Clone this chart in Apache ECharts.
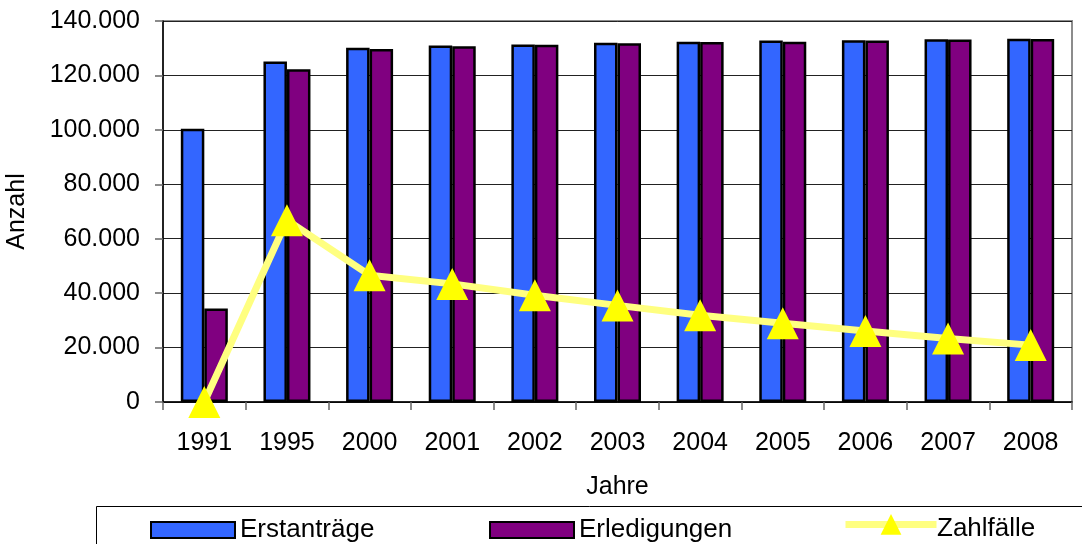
<!DOCTYPE html>
<html>
<head>
<meta charset="utf-8">
<script src="https://cdn.jsdelivr.net/npm/echarts@6/dist/echarts.min.js"></script>
<style>
html,body{margin:0;padding:0;background:#fff;}
#c{width:1082px;height:544px;}
</style>
</head>
<body>
<div id="c"></div>
<script>
const years = ['1991','1995','2000','2001','2002','2003','2004','2005','2006','2007','2008'];
const erstantraege = [100400, 125100, 130200, 131000, 131400, 132000, 132400, 132800, 132900, 133300, 133500];
const erledigungen = [34400, 122300, 129700, 130700, 131300, 131800, 132300, 132400, 132800, 133200, 133400];
const zahlfaelle = [0, 66800, 46600, 43400, 39200, 35500, 31900, 28900, 26100, 23300, 20900];
const yTicks = [0, 20000, 40000, 60000, 80000, 100000, 120000, 140000];

const FONT = 'Liberation Sans, Arial, sans-serif';
const FS = 25;
const LFS = 26;
const chart = echarts.init(document.getElementById('c'), null, {renderer:'canvas'});

function fmt(v){ return v === 0 ? '0' : String(v).replace(/\B(?=(\d{3})+(?!\d))/g, '.'); }

const legendText = {fontFamily: FONT, fontSize: LFS, color: '#000', lineHeight: 22};
chart.setOption({
  animation: false,
  textStyle: {fontFamily: FONT},
  grid: {left: 163, right: 10, top: 21, bottom: 142, show: true, borderColor: '#8c8c8c', borderWidth: 2,
    backgroundColor: '#fff', containLabel: false, outerBoundsMode: 'none'},
  legend: [
    {data: [{name: 'Erstanträge', icon: 'rect'}], left: 150, top: 517, itemWidth: 84, itemHeight: 16, textStyle: legendText, padding: 0},
    {data: [{name: 'Erledigungen', icon: 'rect'}], left: 489, top: 517, itemWidth: 84, itemHeight: 16, textStyle: legendText, padding: 0},
    {data: ['Zahlfälle'], left: 842, top: 514, itemWidth: 91, itemHeight: 26, textStyle: legendText, padding: 0,
      formatter: function(){ return ''; },
      lineStyle: {width: 7, color: '#FFFF80'}, itemStyle: {color: '#FFFF00'}}
  ],
  graphic: [{
    type: 'rect', left: 94, top: 504, shape: {width: 1010, height: 60},
    style: {fill: 'none', stroke: '#000', lineWidth: 1}, z: -1
  }, {
    type: 'text', left: 937, top: 516,
    style: {text: 'Zahlfälle', font: LFS + 'px Liberation Sans, Arial, sans-serif', fill: '#000'}
  }],
  xAxis: {
    type: 'category', data: years, boundaryGap: true,
    name: 'Jahre', nameLocation: 'middle', nameGap: 73,
    nameTextStyle: {fontFamily: FONT, fontSize: FS, color: '#000'},
    axisLine: {lineStyle: {color: '#000', width: 1.5}},
    axisTick: {show: true, length: 8, lineStyle: {color: '#666', width: 1.5}},
    axisLabel: {fontFamily: FONT, fontSize: FS, color: '#000', margin: 29},
    splitLine: {show: false}
  },
  yAxis: {
    type: 'value', min: 0, max: 140000, interval: 20000,
    name: 'Anzahl', nameLocation: 'middle', nameGap: 133, nameRotate: 90,
    nameTextStyle: {fontFamily: FONT, fontSize: FS, color: '#000'},
    axisLine: {show: true, lineStyle: {color: '#000', width: 1.5}},
    axisTick: {show: true, length: 8, lineStyle: {color: '#666', width: 1.5}},
    axisLabel: {fontFamily: FONT, fontSize: FS, color: '#000', margin: 23,
      formatter: function(v){ return yTicks.indexOf(v) >= 0 ? fmt(v) : ''; }},
    splitLine: {show: true, lineStyle: {color: '#222', width: 1}}
  },
  series: [
    {name: 'Erstanträge', type: 'bar', data: erstantraege, barWidth: 23.5, barGap: '0%',
      itemStyle: {color: '#3366FF', borderColor: '#000', borderWidth: 2.5}},
    {name: 'Erledigungen', type: 'bar', data: erledigungen, barWidth: 23.5, barGap: '0%',
      itemStyle: {color: '#800080', borderColor: '#000', borderWidth: 2.5}},
    {name: 'Zahlfälle', type: 'line', data: zahlfaelle, symbol: 'triangle', symbolSize: [32, 32],
      lineStyle: {color: '#FFFF80', width: 7}, itemStyle: {color: '#FFFF00', borderWidth: 0},
      z: 5}
  ]
});
</script>
</body>
</html>
